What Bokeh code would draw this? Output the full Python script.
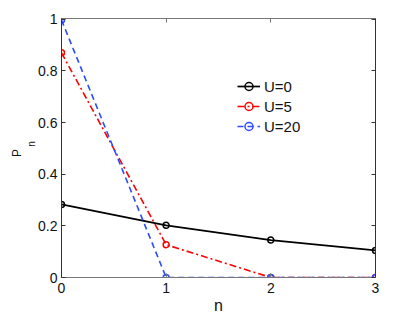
import math
from bokeh.plotting import figure
from bokeh.models import Range1d, LinearAxis, FixedTicker, Legend, LegendItem
from bokeh.embed import file_html
from bokeh.resources import INLINE

n = [0, 1, 2, 3]
p_u0 = [0.283, 0.202, 0.145, 0.105]
p_u5 = [0.870, 0.127, 0.0, 0.0]
p_u20 = [0.997, 0.0, 0.0, 0.0]
x_ticks = [0, 1, 2, 3]
y_ticks = [0, 0.2, 0.4, 0.6, 0.8, 1.0]

FONT = "Liberation Sans"
NB = "\u00a0"

p = figure(width=409, height=319, output_backend="svg", toolbar_location=None,
           x_range=Range1d(0, 3), y_range=Range1d(0, 1.003),
           min_border_left=61, min_border_right=34, min_border_top=18, min_border_bottom=42,
           x_axis_label="n", y_axis_label=NB * 3 + "n")
p.grid.visible = False
p.outline_line_color = None
p.background_fill_color = "white"

def style_axis(ax, labels=True, color="#333333"):
    ax.major_tick_in = 4
    ax.major_tick_out = 0
    ax.minor_tick_in = 0
    ax.minor_tick_out = 0
    ax.axis_line_color = color
    ax.axis_line_width = 1
    ax.major_tick_line_color = color
    ax.major_label_text_font = FONT
    ax.major_label_text_font_size = "14px"
    ax.major_label_text_color = "#111111"
    if not labels:
        ax.major_label_overrides = {t: "" for t in ax.ticker.ticks}
        ax.major_label_standoff = 0

xa = p.xaxis[0]
xa.ticker = FixedTicker(ticks=x_ticks)
style_axis(xa, color="#777777")
xa.major_label_standoff = 5
xa.axis_label_text_font = FONT
xa.axis_label_text_font_size = "16px"
xa.axis_label_text_font_style = "normal"
xa.axis_label_standoff = 1
xa.axis_label_text_color = "#111111"

ya = p.yaxis[0]
ya.ticker = FixedTicker(ticks=y_ticks)
style_axis(ya)
ya.major_label_standoff = 4
ya.axis_label_text_font = FONT
ya.axis_label_text_font_size = "10px"
ya.axis_label_text_font_style = "normal"
ya.axis_label_standoff = -2
ya.axis_label_text_color = "#111111"

# outer left axis carrying only the "P" of the y label
pa = LinearAxis(ticker=FixedTicker(ticks=[]), axis_label="P" + NB * 3)
pa.axis_line_color = None
pa.major_tick_line_color = None
pa.minor_tick_line_color = None
pa.major_tick_out = 0
pa.major_tick_in = 0
pa.major_label_standoff = 0
pa.axis_label_standoff = 0
pa.axis_label_text_font = FONT
pa.axis_label_text_font_size = "12px"
pa.axis_label_text_font_style = "normal"
pa.axis_label_text_color = "#111111"
p.add_layout(pa, "left")

top = LinearAxis(ticker=FixedTicker(ticks=x_ticks))
style_axis(top, labels=False, color="#777777")
p.add_layout(top, "above")
right = LinearAxis(ticker=FixedTicker(ticks=y_ticks))
style_axis(right, labels=False)
p.add_layout(right, "right")

l0 = p.line(n, p_u0, line_color="black", line_width=1.7)
m0 = p.scatter(n, p_u0, marker="circle", size=6, line_color="black", line_width=1.5, fill_alpha=0)
l5 = p.line(n, p_u5, line_color="#ff0000", line_width=1.6, line_dash="7 3 2 3")
m5 = p.scatter(n, p_u5, marker="circle", size=6, line_color="#ff0000", line_width=1.5, fill_alpha=0)
l20 = p.line(n, p_u20, line_color="#2b4cff", line_width=1.6, line_dash="6 4")
m20 = p.scatter(n, p_u20, marker="circle", size=6, line_color="#2b4cff", line_width=1.5, fill_alpha=0)

legend = Legend(items=[
    LegendItem(label="U=0", renderers=[l0, m0]),
    LegendItem(label="U=5", renderers=[l5, m5]),
    LegendItem(label="U=20", renderers=[l20, m20]),
], location=(171, 136))
legend.border_line_alpha = 0
legend.background_fill_alpha = 0
legend.padding = 5
legend.spacing = 0
legend.margin = 0
legend.label_height = 20
legend.glyph_height = 20
legend.glyph_width = 23
legend.label_standoff = 4
legend.label_text_font = FONT
legend.label_text_font_size = "15px"
legend.label_text_color = "#111111"
p.add_layout(legend, "center")

open("out.html", "w").write(file_html(p, INLINE))
